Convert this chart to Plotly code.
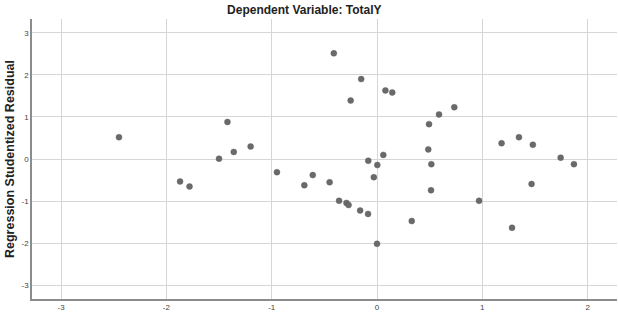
import plotly.graph_objects as go

# Standardized predicted value (x) vs studentized residual (y)
pred = [-2.45, -1.87, -1.78, -1.50, -1.42, -1.36, -1.20, -0.95, -0.69, -0.61,
        -0.45, -0.41, -0.36, -0.29, -0.27, -0.25, -0.16, -0.15, -0.085, -0.083,
        -0.03, 0.00, 0.003, 0.06, 0.08, 0.145, 0.33, 0.487, 0.494, 0.513,
        0.516, 0.589, 0.734, 0.969, 1.183, 1.282, 1.348, 1.468, 1.48, 1.744, 1.87]
resid = [0.52, -0.53, -0.65, 0.01, 0.88, 0.17, 0.30, -0.31, -0.62, -0.38,
         -0.55, 2.51, -0.99, -1.04, -1.09, 1.39, -1.22, 1.90, -1.30, -0.04,
         -0.43, -2.01, -0.14, 0.10, 1.63, 1.58, -1.47, 0.23, 0.83, -0.74,
         -0.12, 1.06, 1.23, -0.99, 0.376, -1.63, 0.52, -0.59, 0.34, 0.035, -0.12]

xticks = [-3, -2, -1, 0, 1, 2]
yticks = [-3, -2, -1, 0, 1, 2, 3]

fig = go.Figure()
fig.add_trace(go.Scatter(
    x=pred, y=resid, mode="markers",
    marker=dict(size=6, color="#6a6a6a", line=dict(width=0.4, color="#5a5a5a")),
    showlegend=False, hoverinfo="skip"))

axis_common = dict(
    showgrid=True, gridcolor="#d6d6d6", gridwidth=1,
    zeroline=False, showline=True, linecolor="#8c8c8c", linewidth=1.5,
    ticks="", tickfont=dict(family="Liberation Sans, Arial", size=8, color="#444444"),
)

fig.update_layout(
    width=618, height=316,
    margin=dict(l=32, r=1, t=19, b=17),
    paper_bgcolor="white", plot_bgcolor="white",
    title=dict(text="<b>Dependent Variable: TotalY</b>",
               x=0.4655, xref="paper", xanchor="center",
               y=1 - 10 / 316, yref="container", yanchor="middle",
               font=dict(family="Liberation Sans, Arial", size=12, color="#222222")),
    xaxis=dict(range=[-3.276, 2.279], tickvals=xticks, ticktext=[str(v) for v in xticks],
               **axis_common),
    yaxis=dict(range=[-3.32, 3.325], tickvals=yticks, ticktext=[str(v) for v in yticks],
               **axis_common),
    annotations=[dict(
        text="<b>Regression Studentized Residual</b>",
        xref="paper", yref="paper", x=0, y=0.5, xshift=-22,
        xanchor="center", yanchor="middle", textangle=-90, showarrow=False,
        font=dict(family="Liberation Sans, Arial", size=12.5, color="#222222"))],
)

fig.write_html("out.html")
